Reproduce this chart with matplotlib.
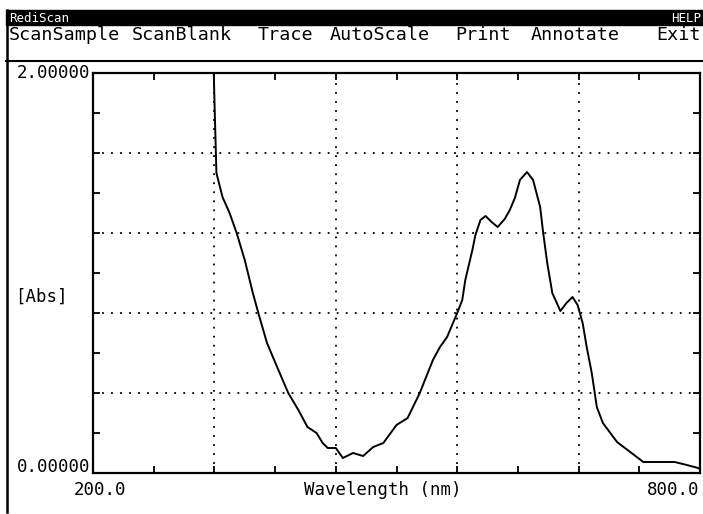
import matplotlib.pyplot as plt
from matplotlib.patches import Rectangle
from matplotlib.lines import Line2D
from matplotlib.ticker import FixedLocator

# spectrum (nm, Abs)
wavelength = [318, 320, 322, 328, 335, 342, 350, 358, 364, 372, 382, 393, 403,
              412, 421, 427, 432, 440, 447, 457, 467, 477, 487, 500, 511, 523,
              536, 543, 550, 560, 565, 568, 575, 578, 583, 588, 594, 600, 607,
              612, 617, 622, 629, 635, 642, 645, 649, 654, 662, 668, 674, 679,
              684, 688, 693, 698, 704, 718, 731, 744, 758, 775, 787, 798, 800]
absorb = [2.30, 1.87, 1.50, 1.38, 1.30, 1.20, 1.065, 0.90, 0.79, 0.65, 0.53,
          0.40, 0.315, 0.23, 0.20, 0.15, 0.125, 0.125, 0.075, 0.10, 0.085,
          0.13, 0.15, 0.24, 0.275, 0.40, 0.565, 0.63, 0.68, 0.80, 0.865,
          0.965, 1.115, 1.19, 1.265, 1.285, 1.255, 1.23, 1.27, 1.315, 1.375,
          1.465, 1.505, 1.465, 1.33, 1.20, 1.05, 0.90, 0.81, 0.85, 0.88, 0.84,
          0.75, 0.63, 0.50, 0.33, 0.25, 0.155, 0.105, 0.055, 0.055, 0.055,
          0.04, 0.025, 0.02]

grid_x = [320, 440, 560, 680]
minor_x = [260, 380, 500, 620, 740]
grid_y = [0.4, 0.8, 1.2, 1.6]
minor_y = [0.2, 0.6, 1.0, 1.4, 1.8]

menu = ["ScanSample", "ScanBlank", "Trace", "AutoScale", "Print", "Annotate"]
menu_x = [9, 132, 258, 330, 455, 531]

W, H = 703, 514
mono = "DejaVu Sans Mono"

fig = plt.figure(figsize=(W / 100, H / 100), dpi=100)


def px(x, y):
    return x / W, 1 - y / H


# title bar + menu
fig.patches.append(Rectangle(px(6, 25), (W - 6) / W, 15 / H, transform=fig.transFigure,
                             color="black", zorder=0))
fig.text(*px(9, 18), "RediScan", color="white", fontsize=9, family=mono, va="center")
fig.text(*px(701, 18), "HELP", color="white", fontsize=9, family=mono, va="center", ha="right")
for label, x in zip(menu, menu_x):
    fig.text(*px(x, 35), label, fontsize=13.2, family=mono, va="center")
fig.text(*px(701, 35), "Exit", fontsize=13.2, family=mono, va="center", ha="right")
fig.lines.append(Line2D([6 / W, 1], [1 - 61 / H] * 2, transform=fig.transFigure,
                        color="black", lw=1.5))
fig.lines.append(Line2D([7 / W] * 2, [1 - 10 / H, 1 - 512 / H], transform=fig.transFigure,
                        color="black", lw=1.8))

ax = fig.add_axes([93 / W, 1 - 473 / H, 607 / W, 400 / H])
ax.plot(wavelength, absorb, color="black", lw=1.4)
ax.set_xlim(200, 800)
ax.set_ylim(0, 2)

ax.xaxis.set_major_locator(FixedLocator(grid_x))
ax.xaxis.set_minor_locator(FixedLocator(minor_x))
ax.yaxis.set_major_locator(FixedLocator(grid_y))
ax.yaxis.set_minor_locator(FixedLocator(minor_y))
ax.tick_params(which="both", direction="in", top=True, right=True, length=5,
               width=1.3, labelbottom=False, labelleft=False)
ax.grid(True, which="major", color="black", lw=1.3, linestyle=(0, (1, 4)))
for s in ax.spines.values():
    s.set_linewidth(1.6)

# axis labels in screen font
fig.text(*px(90, 73), "2.00000", fontsize=12.5, family=mono, va="center", ha="right")
fig.text(*px(90, 467), "0.00000", fontsize=12.5, family=mono, va="center", ha="right")
fig.text(*px(15, 297), "[Abs]", fontsize=12.5, family=mono, va="center")
fig.text(*px(100, 490), "200.0", fontsize=12.5, family=mono, va="center", ha="center")
fig.text(*px(673, 490), "800.0", fontsize=12.5, family=mono, va="center", ha="center")
fig.text(*px(383, 490), "Wavelength (nm)", fontsize=12.5, family=mono, va="center", ha="center")

fig.savefig("out.png", dpi=100)
